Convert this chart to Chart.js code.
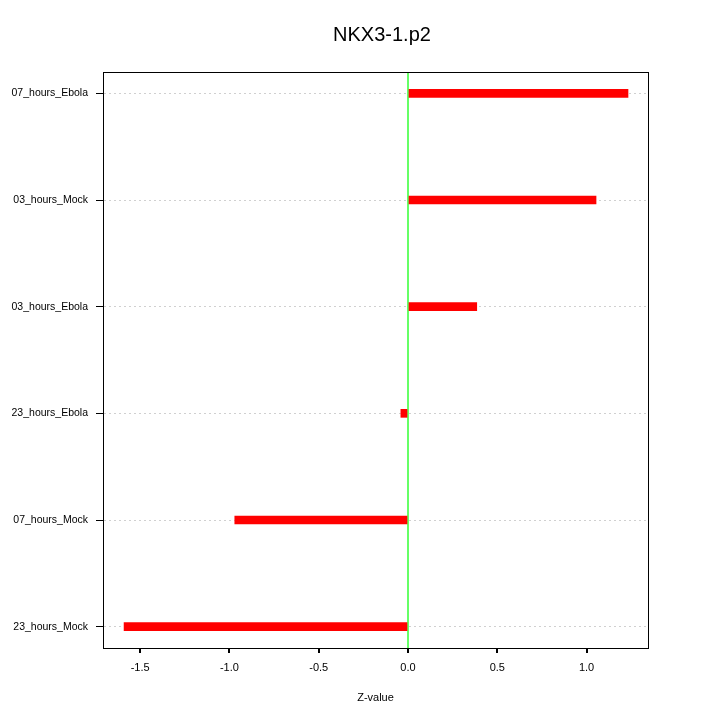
<!DOCTYPE html>
<html>
<head>
<meta charset="utf-8">
<script src="https://cdn.jsdelivr.net/npm/chart.js@4"></script>
<style>
  html, body { margin: 0; padding: 0; background: #fff; }
  #wrap { width: 720px; height: 720px; }
</style>
</head>
<body>
<div id="wrap"><canvas id="chart" width="720" height="720"></canvas></div>
<script>
// Z-values per sample, bottom to top
const categories = ['23_hours_Mock', '07_hours_Mock', '23_hours_Ebola', '03_hours_Ebola', '03_hours_Mock', '07_hours_Ebola'];
const zValues = [-1.59, -0.97, -0.04, 0.385, 1.053, 1.232];
const xTicks = [-1.5, -1.0, -0.5, 0.0, 0.5, 1.0];

const FONT = 'Liberation Sans, Arial, Helvetica, sans-serif';

// box round the plot area; title centred a bit right, like the original
const frame = {
  id: 'frame',
  beforeDraw(chart) {
    const t = chart.titleBlock;
    if (t && !t._shifted) { t.left += 44; t.width -= 44; t._shifted = true; }
  },
  afterDraw(chart) {
    const { ctx, chartArea: a } = chart;
    ctx.save();
    ctx.strokeStyle = '#000';
    ctx.lineWidth = 1;
    ctx.setLineDash([]);
    ctx.strokeRect(Math.round(a.left) + 0.5, Math.round(a.top) + 0.5,
      Math.round(a.right - a.left), Math.round(a.bottom - a.top));
    ctx.restore();
  }
};

new Chart(document.getElementById('chart'), {
  type: 'bar',
  data: {
    datasets: [{
      data: categories.map((c, i) => ({ y: i + 1, x: zValues[i] })),
      backgroundColor: '#ff0000',
      borderWidth: 0,
      barThickness: 8,
    }]
  },
  options: {
    indexAxis: 'y',
    responsive: false,
    animation: false,
    layout: { padding: 0 },
    plugins: {
      legend: { display: false },
      tooltip: { enabled: false },
      title: {
        display: true,
        text: 'NKX3-1.p2',
        color: '#000',
        font: { family: FONT, size: 20, weight: 'normal', lineHeight: 1.2 },
        padding: { top: 23, bottom: 25 }
      }
    },
    scales: {
      x: {
        type: 'linear',
        min: -1.708,
        max: 1.344,
        afterBuildTicks: (s) => { s.ticks = xTicks.map(v => ({ value: v })); },
        afterFit: (s) => { s.height = 72; },
        ticks: {
          color: '#000',
          padding: 8,
          font: { family: FONT, size: 11 },
          callback: (v) => Number(v).toFixed(1)
        },
        grid: {
          drawOnChartArea: true,
          tickLength: 5,
          tickColor: '#000',
          lineWidth: 2,
          color: (ctx) => (ctx.tick && ctx.tick.value === 0 ? '#66ff66' : 'rgba(0,0,0,0)')
        },
        border: { display: true, color: '#000', width: 1 },
        title: {
          display: true,
          text: 'Z-value',
          color: '#000',
          font: { family: FONT, size: 11, lineHeight: 1.2 },
          padding: { top: 0, bottom: 15 }
        }
      },
      y: {
        type: 'linear',
        min: 0.8,
        max: 6.2,
        offset: false,
        z: 1,
        afterBuildTicks: (s) => { s.ticks = categories.map((c, i) => ({ value: i + 1 })); },
        afterFit: (s) => { s.width = 103; },
        ticks: {
          color: '#000',
          padding: 8,
          font: { family: FONT, size: 10.5 },
          callback: (v) => categories[v - 1]
        },
        grid: {
          offset: false,
          drawOnChartArea: true,
          tickLength: 7,
          tickColor: '#000',
          tickBorderDash: [],
          color: '#d0d0d0',
          lineWidth: 1
        },
        border: { display: true, color: '#000', width: 1, dash: [2, 3] }
      },
      y2: {
        position: 'right',
        display: true,
        afterFit: (s) => { s.width = 72; },
        ticks: { display: false },
        grid: { display: false, drawOnChartArea: false },
        border: { display: false }
      }
    }
  },
  plugins: [frame]
});
</script>
</body>
</html>
